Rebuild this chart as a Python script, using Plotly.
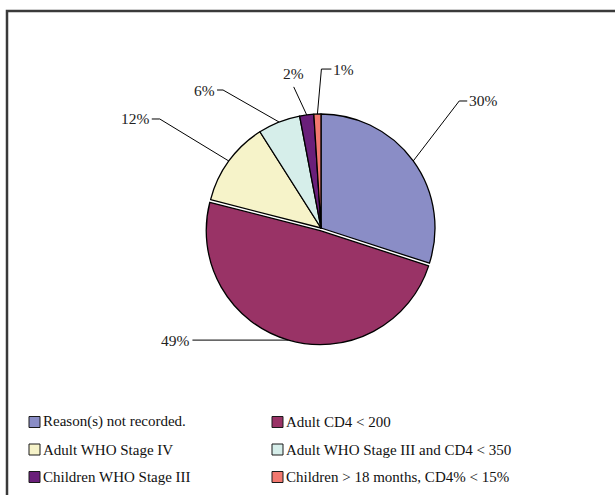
import math
import plotly.graph_objects as go

# Reasons for starting treatment, share of patients (%)
categories = [
    "Reason(s) not recorded.",
    "Adult CD4 &lt; 200",
    "Adult WHO Stage IV",
    "Adult WHO Stage III and CD4 &lt; 350",
    "Children WHO Stage III",
    "Children &gt; 18 months, CD4% &lt; 15%",
]
shares = [30, 49, 12, 6, 2, 1]
label_text = ["30%", "49%", "12%", "6%", "2%", "1%"]

colors = ["#8A8DC6", "#993366", "#F6F3C9", "#D6EEEA", "#6A1F7A", "#F2786F"]
pulls = [0, 0.024, 0, 0, 0, 0]

W, H = 615, 495
CX, CY, R = 321, 228, 114          # pie centre and radius in pixels
max_pull = max(pulls)
half = R * (1 + max_pull)           # half-size of the pie's domain box

def px_x(x):
    return x / W

def px_y(y):
    return (H - y) / H

FONT = "Liberation Serif, Times New Roman, serif"

fig = go.Figure(
    go.Pie(
        labels=categories,
        values=shares,
        sort=False,
        direction="clockwise",
        rotation=0,
        pull=pulls,
        marker=dict(colors=colors, line=dict(color="#000000", width=1.3)),
        textinfo="none",
        hoverinfo="skip",
        showlegend=False,
        domain=dict(
            x=[px_x(CX - half), px_x(CX + half)],
            y=[px_y(CY + half), px_y(CY - half)],
        ),
    )
)

# leader-line layout per label: elbow offset from slice edge, horizontal tick, text side
leader_style = [
    dict(elbow=(46, -60), tick=8, side="right"),
    dict(elbow=(0, 0), tick=-96, side="left"),
    dict(elbow=(-69, -42), tick=-8, side="left"),
    dict(elbow=(-56, -32), tick=-6, side="left"),
    dict(elbow=(-13, -28), tick=0, side="above"),
    dict(elbow=(4, -45), tick=10, side="right"),
]

shapes = []
annotations = []
total = sum(shares)
cum = 0
for val, txt, pl, st in zip(shares, label_text, pulls, leader_style):
    mid = (cum + val / 2) / total * 2 * math.pi
    cum += val
    sx, sy = math.sin(mid), -math.cos(mid)
    ox, oy = CX + pl * R * sx, CY + pl * R * sy
    ex, ey = ox + R * sx, oy + R * sy
    bx, by = ex + st["elbow"][0], ey + st["elbow"][1]
    tx = bx + st["tick"]
    path = f"M{px_x(ex)},{px_y(ey)} L{px_x(bx)},{px_y(by)} L{px_x(tx)},{px_y(by)}"
    shapes.append(dict(type="path", path=path, xref="paper", yref="paper",
                       line=dict(color="#000000", width=1)))
    if st["side"] == "right":
        ann = dict(x=px_x(tx), y=px_y(by), xanchor="left", yanchor="middle")
    elif st["side"] == "left":
        ann = dict(x=px_x(tx), y=px_y(by), xanchor="right", yanchor="middle")
    else:
        ann = dict(x=px_x(bx), y=px_y(by - 3), xanchor="center", yanchor="bottom")
    ann.update(text=txt, showarrow=False, xref="paper", yref="paper",
               font=dict(family=FONT, size=15.5, color="#222222"))
    annotations.append(ann)

# two-column legend below the pie
LEG_X = [29, 272]                   # left edge of the swatches per column
LEG_Y0, LEG_DY = 422, 27.5          # first row centre and row pitch
SW = 11                             # swatch size
for i, (cat, col) in enumerate(zip(categories, colors)):
    row, c = divmod(i, 2)
    x0 = LEG_X[c]
    yc = LEG_Y0 + row * LEG_DY
    shapes.append(dict(type="rect", xref="paper", yref="paper",
                       x0=px_x(x0), x1=px_x(x0 + SW),
                       y0=px_y(yc + SW / 2), y1=px_y(yc - SW / 2),
                       fillcolor=col, line=dict(color="#1a1a1a", width=1)))
    annotations.append(dict(x=px_x(x0 + SW + 1), y=px_y(yc), xanchor="left",
                            yanchor="middle", text=cat, showarrow=False,
                            xref="paper", yref="paper",
                            font=dict(family=FONT, size=15, color="#111111")))

# chart frame (open to the right and bottom)
shapes.append(dict(type="rect", xref="paper", yref="paper",
                   x0=px_x(7), x1=px_x(W + 20), y0=px_y(H + 20), y1=px_y(11),
                   line=dict(color="#3a3a3a", width=2.5)))

fig.update_layout(
    width=W,
    height=H,
    margin=dict(l=0, r=0, t=0, b=0),
    paper_bgcolor="#FFFFFF",
    plot_bgcolor="#FFFFFF",
    showlegend=False,
    shapes=shapes,
    annotations=annotations,
)

fig.write_html("out.html")
